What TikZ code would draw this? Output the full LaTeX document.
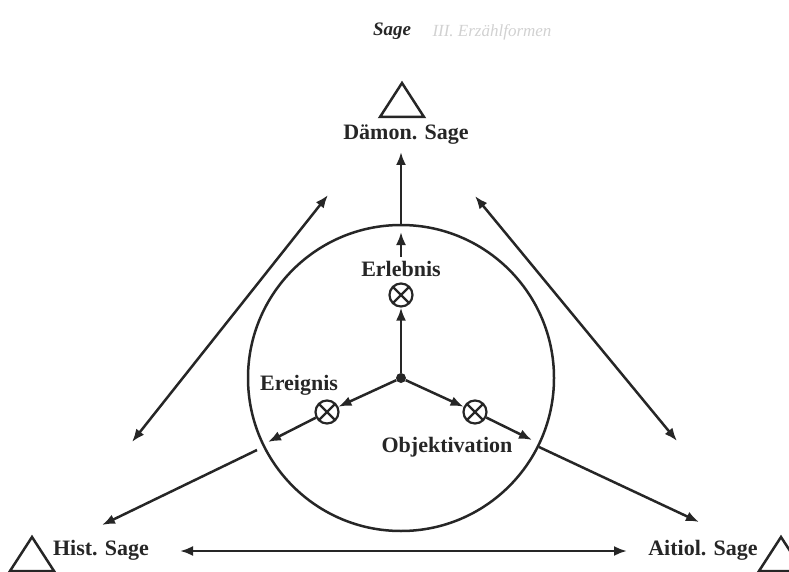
\documentclass[tikz,border=0pt]{standalone}
\usepackage{fontspec}
\setmainfont{Liberation Serif}
\usetikzlibrary{arrows.meta}
\begin{document}
\begin{tikzpicture}[x=1pt,y=-1pt,
  lbl/.style={font=\fontsize{22}{22}\selectfont\bfseries, inner sep=0pt, anchor=base, text=black!85},
  arr/.style={line width=2.5pt, draw=black!85, -{Latex[length=13pt,width=10pt]}},
  darr/.style={line width=2.5pt, draw=black!85, {Latex[length=13pt,width=10pt]}-{Latex[length=13pt,width=10pt]}},
  otim/.style={circle, draw=black!85, line width=2.2pt, minimum size=23pt, inner sep=0pt,
    path picture={\draw[line width=2.2pt, black!85] (path picture bounding box.north west)--(path picture bounding box.south east) (path picture bounding box.north east)--(path picture bounding box.south west);}},
  tri/.style={line width=2.5pt, draw=black!85, line join=miter}]
\useasboundingbox (0,0) rectangle (789,572);
% header and title
\node[font=\fontsize{17}{17}\selectfont\itshape, text=black!18, anchor=base, inner sep=0pt] (hdr) at (492,37) {III. Erzählformen};
\node[font=\fontsize{19}{19}\selectfont\bfseries\itshape, text=black!85, anchor=base, inner sep=0pt] (title) at (392,36) {Sage};
% triangles
\draw[tri] (402,83) -- (380,117) -- (424,117) -- cycle;
\draw[tri] (32,537) -- (10,571) -- (54,571) -- cycle;
\draw[tri] (781,537) -- (759,571) -- (803,571) -- cycle;
% labels
\node[lbl] (daemon) at (406,140) {Dämon. Sage};
\node[lbl] (erlebnis) at (401,276) {Erlebnis};
\node[lbl] (ereignis) at (299,390) {Ereignis};
\node[lbl] (objekt) at (447,452) {Objektivation};
\node[lbl] (hist) at (101,555) {Hist. Sage};
\node[lbl] (aitiol) at (703,555) {Aitiol. Sage};
% circle and centre
\node[circle, draw=black!85, line width=2.5pt, minimum size=306pt, inner sep=0pt] (circ) at (401,378) {};
\node[circle, fill=black!85, minimum size=10pt, inner sep=0pt] (dot) at (401,378) {};
% crossed circles
\node[otim] (x1) at (401,295) {};
\node[otim] (x2) at (327,412) {};
\node[otim] (x3) at (475,412) {};
% coordinates
\coordinate (dtip) at (401,152);
\coordinate (ctop) at (401,225);
\coordinate (elb) at (401,257);
\coordinate (etip) at (401,232);
\coordinate (x2tip) at (268,442);
\coordinate (x3tip) at (532,440);
\coordinate (l1) at (257,450);
\coordinate (l2) at (102,525);
\coordinate (r1) at (539,447);
\coordinate (r2) at (699,522);
\coordinate (ld1) at (132,442);
\coordinate (ld2) at (328,195);
\coordinate (rd1) at (475,196);
\coordinate (rd2) at (677,441);
\coordinate (b1) at (180,551);
\coordinate (b2) at (627,551);
% arrows
\draw[arr] (dot) -- (x1);
\draw[arr] (dot) -- (x2);
\draw[arr] (dot) -- (x3);
\draw[arr] (elb) -- (etip);
\draw[arr] (ctop) -- (dtip);
\draw[arr] (x2) -- (x2tip);
\draw[arr] (x3) -- (x3tip);
\draw[arr] (l1) -- (l2);
\draw[arr] (r1) -- (r2);
\draw[darr] (ld1) -- (ld2);
\draw[darr] (rd1) -- (rd2);
\draw[darr] (b1) -- (b2);
\end{tikzpicture}
\end{document}
